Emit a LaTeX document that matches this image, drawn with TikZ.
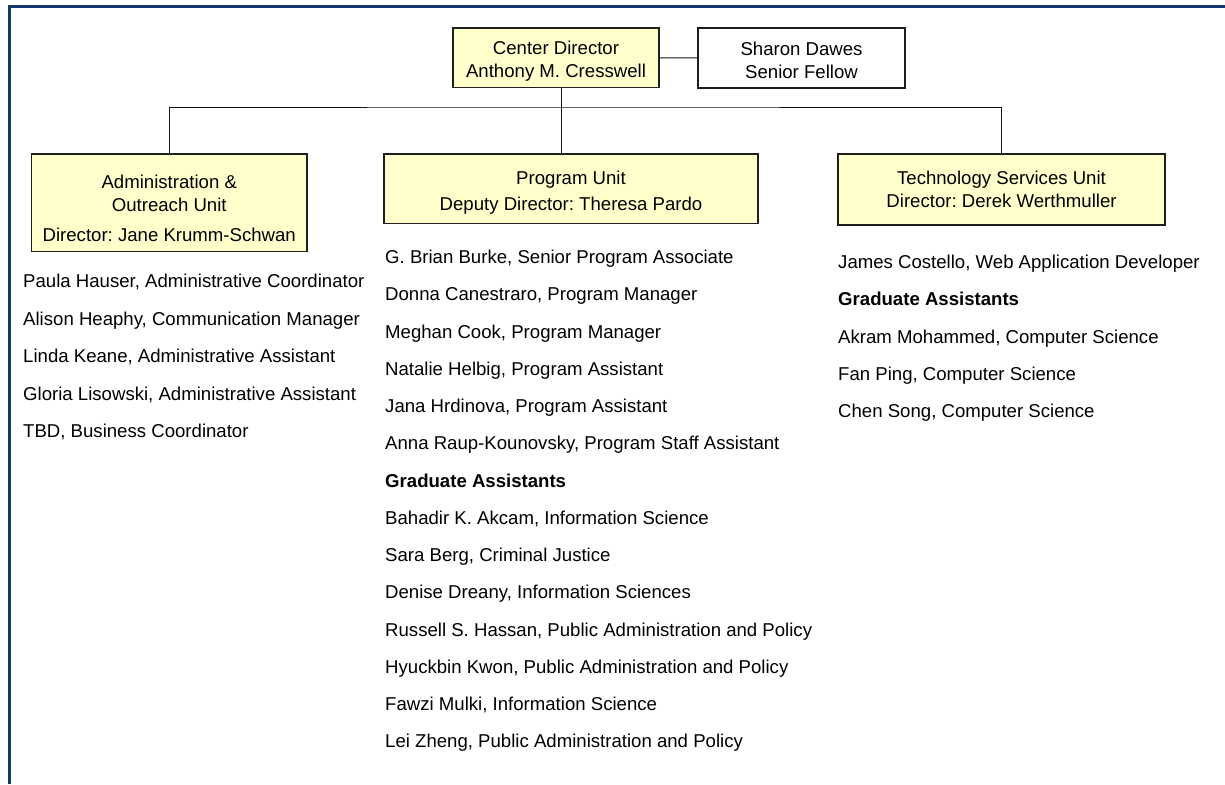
\documentclass[tikz,border=0pt]{standalone}
\usepackage{fontspec}
\setmainfont{Liberation Sans}
\usepackage{tikz}
\frenchspacing
\begin{document}
\begin{tikzpicture}[x=1pt,y=1pt,yscale=-1,xscale=1,
  unitbox/.style={draw={rgb, 255:red, 30; green, 30; blue, 30}, line width=1.1pt, fill={rgb, 255:red, 255; green, 255; blue, 204}, align=center, inner sep=0pt, font=\fontsize{18.6}{22.5}\selectfont},
  fellowbox/.style={unitbox, fill=white},
  link/.style={draw={rgb, 255:red, 20; green, 20; blue, 20}, line width=1pt},
  member/.style={anchor=base west, inner sep=0pt, font=\fontsize{18.6}{22}\selectfont},
  grouphead/.style={member, font=\fontsize{18.6}{22}\selectfont\bfseries}]
\useasboundingbox (0,0) rectangle (1225,784);
%Frame
\draw [color={rgb, 255:red, 18; green, 58; blue, 108 }, line width=2.4pt] (9.5,784) -- (9.5,6.5) -- (1225,6.5) ;

%Shape: Rectangle (center director)
\node [unitbox, minimum width=206pt, minimum height=59.5pt] (cd) at (556,57.75) {\rule{0pt}{20pt}Center Director\\Anthony M. Cresswell};
%Shape: Rectangle (senior fellow)
\node [fellowbox, minimum width=207pt, minimum height=60pt] (sd) at (801.5,58) {\rule{0pt}{18pt}Sharon Dawes\\Senior Fellow};
%Shape: Rectangle (administration unit)
\node [unitbox, minimum width=275.5pt, minimum height=97.5pt] (admin) at (169.25,202.75) {\rule{0pt}{25pt}Administration \&\\Outreach Unit\\[8pt]Director: Jane Krumm-Schwan};
%Shape: Rectangle (program unit)
\node [unitbox, minimum width=374pt, minimum height=69.5pt] (prog) at (571,188.75) {\rule{0pt}{21pt}Program Unit\\[4pt]Deputy Director: Theresa Pardo};
%Shape: Rectangle (technology unit)
\node [unitbox, minimum width=327pt, minimum height=71pt] (tech) at (1001.5,189.5) {Technology Services Unit\\Director: Derek Werthmuller};

%Straight Lines
\coordinate (bus) at (561,107);
\draw [link] (cd.east) -- (sd.west) ;
\draw [link] (cd.south -| bus) -- (prog.north -| bus) ;
\draw [link] (admin.north) |- (bus) -| (tech.north) ;

%Text: administration staff
\node [member] (a1) at (23,287.5) {Paula Hauser, Administrative Coordinator};
\node [member] (a2) at (23,325) {Alison Heaphy, Communication Manager};
\node [member] (a3) at (23,362.5) {Linda Keane, Administrative Assistant};
\node [member] (a4) at (23,400) {Gloria Lisowski, Administrative Assistant};
\node [member] (a5) at (23,437.5) {TBD, Business Coordinator};

%Text: program staff
\node [member] (p1) at (385,263.5) {G. Brian Burke, Senior Program Associate};
\node [member] (p2) at (385,300.75) {Donna Canestraro, Program Manager};
\node [member] (p3) at (385,338) {Meghan Cook, Program Manager};
\node [member] (p4) at (385,375.25) {Natalie Helbig, Program Assistant};
\node [member] (p5) at (385,412.5) {Jana Hrdinova, Program Assistant};
\node [member] (p6) at (385,449.75) {Anna Raup-Kounovsky, Program Staff Assistant};
\node [grouphead] (pg) at (385,487) {Graduate Assistants};
\node [member] (p7) at (385,524.25) {Bahadir K. Akcam, Information Science};
\node [member] (p8) at (385,561.5) {Sara Berg, Criminal Justice};
\node [member] (p9) at (385,598.75) {Denise Dreany, Information Sciences};
\node [member] (p10) at (385,636) {Russell S. Hassan, Public Administration and Policy};
\node [member] (p11) at (385,673.25) {Hyuckbin Kwon, Public Administration and Policy};
\node [member] (p12) at (385,710.5) {Fawzi Mulki, Information Science};
\node [member] (p13) at (385,747.75) {Lei Zheng, Public Administration and Policy};

%Text: technology staff
\node [member] (t1) at (838,268.5) {James Costello, Web Application Developer};
\node [grouphead] (tg) at (838,305.8) {Graduate Assistants};
\node [member] (t2) at (838,343.1) {Akram Mohammed, Computer Science};
\node [member] (t3) at (838,380.4) {Fan Ping, Computer Science};
\node [member] (t4) at (838,417.7) {Chen Song, Computer Science};
\end{tikzpicture}
\end{document}
